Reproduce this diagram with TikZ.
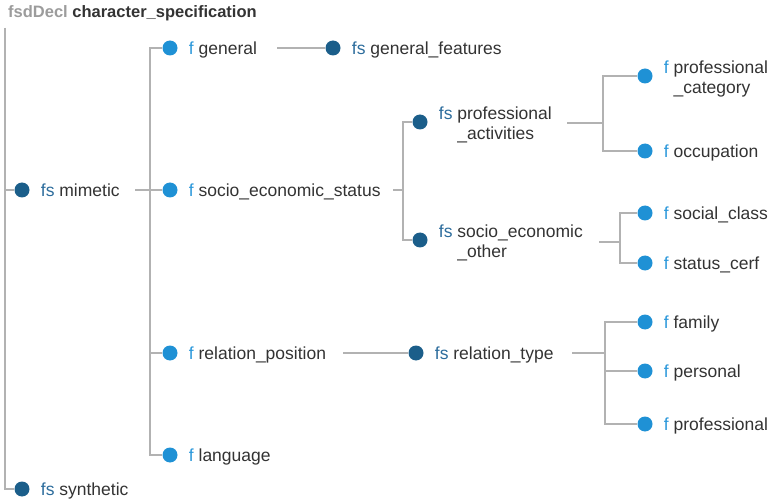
\documentclass[tikz,border=0pt]{standalone}
\usepackage{fontspec}
\setmainfont{Liberation Sans}
\usetikzlibrary{positioning}

\definecolor{fsblue}{HTML}{1B5E8A}
\definecolor{fblue}{HTML}{1F91D5}
\definecolor{fstext}{HTML}{2C6C9C}
\definecolor{ftext}{HTML}{2A97DA}
\definecolor{txtgray}{HTML}{333333}
\definecolor{linegray}{HTML}{B2B2B2}
\definecolor{titlegray}{HTML}{9C9C9C}

\newcommand\fstag{{\color{fstext}fs}}
\newcommand\ftag{{\color{ftext}f}}

\tikzset{
  fsdot/.style={circle, fill=fsblue, minimum size=15pt, inner sep=0pt},
  fdot/.style={circle, fill=fblue, minimum size=15pt, inner sep=0pt},
  lbl/.style={right=11pt of #1, yshift=-2.5pt, inner sep=0pt, text=txtgray,
    font=\fontsize{17.5}{20}\selectfont, text height=0.72em, text depth=0pt},
  lbltwo/.style={right=11pt of #1, yshift=-3pt, inner sep=0pt, text=txtgray, align=left,
    font=\fontsize{17.5}{20}\selectfont},
  edge/.style={draw=linegray, line width=1.1pt}
}

\begin{document}
\begin{tikzpicture}[x=1pt, y=-1pt]
  \useasboundingbox (0,0) rectangle (772,500);

  % title
  \node[anchor=west, inner sep=0pt, text=txtgray, font=\fontsize{16.5}{20}\selectfont\bfseries]
    (title) at (8,13) {{\color{titlegray}fsdDecl} character\_specification};
  \coordinate (root) at (5,28);

  % first level
  \node[fsdot] (mimetic) at (22,190) {};
  \node[lbl=mimetic] (mimeticT) {\fstag{} mimetic};
  \node[fsdot] (synthetic) at (22,489) {};
  \node[lbl=synthetic] (syntheticT) {\fstag{} synthetic};

  % under mimetic
  \node[fdot] (general) at (170,48) {};
  \node[lbl=general] (generalT) {\ftag{} general};
  \node[fdot] (socio) at (170,190) {};
  \node[lbl=socio] (socioT) {\ftag{} socio\_economic\_status};
  \node[fdot] (relpos) at (170,353) {};
  \node[lbl=relpos] (relposT) {\ftag{} relation\_position};
  \node[fdot] (language) at (170,455) {};
  \node[lbl=language] (languageT) {\ftag{} language};

  \node[fsdot] (genfeat) at (333,48) {};
  \node[lbl=genfeat] (genfeatT) {\fstag{} general\_features};

  % under socio_economic_status
  \node[fsdot] (profact) at (420,122) {};
  \node[lbltwo=profact] (profactT) {\fstag{} professional\\\hphantom{fs\ }\_activities};
  \node[fsdot] (socother) at (420,240) {};
  \node[lbltwo=socother] (socotherT) {\fstag{} socio\_economic\\\hphantom{fs\ }\_other};

  \node[fdot] (profcat) at (645,76) {};
  \node[lbltwo=profcat] (profcatT) {\ftag{} professional\\\hphantom{f\ }\_category};
  \node[fdot] (occup) at (645,151) {};
  \node[lbl=occup] (occupT) {\ftag{} occupation};
  \node[fdot] (social) at (645,213) {};
  \node[lbl=social] (socialT) {\ftag{} social\_class};
  \node[fdot] (status) at (645,263) {};
  \node[lbl=status] (statusT) {\ftag{} status\_cerf};

  % under relation_position
  \node[fsdot] (reltype) at (416,353) {};
  \node[lbl=reltype] (reltypeT) {\fstag{} relation\_type};
  \node[fdot] (family) at (645,322) {};
  \node[lbl=family] (familyT) {\ftag{} family};
  \node[fdot] (personal) at (645,371) {};
  \node[lbl=personal] (personalT) {\ftag{} personal};
  \node[fdot] (profess) at (645,424) {};
  \node[lbl=profess] (professT) {\ftag{} professional};

  % joints
  \coordinate (jm) at (150,190);
  \coordinate (js) at (403,190);
  \coordinate (jp) at (603,123);
  \coordinate (jo) at (620,242);
  \coordinate (jr) at (605,353);

  % connectors
  \draw[edge] (root) |- (mimetic);
  \draw[edge] (root) |- (synthetic);

  \draw[edge, shorten >=15pt] (jm) -- (jm -| mimeticT.east);
  \foreach \c in {general, socio, relpos, language}
    \draw[edge] (jm) |- (\c);
  \draw[edge, shorten <=20pt] (generalT.east |- genfeat) -- (genfeat);

  \draw[edge, shorten >=12pt] (js) -- (js -| socioT.east);
  \foreach \c in {profact, socother}
    \draw[edge] (js) |- (\c);

  \draw[edge, shorten >=15pt] (jp) -- (jp -| profactT.east);
  \foreach \c in {profcat, occup}
    \draw[edge] (jp) |- (\c);

  \draw[edge, shorten >=16pt] (jo) -- (jo -| socotherT.east);
  \foreach \c in {social, status}
    \draw[edge] (jo) |- (\c);

  \draw[edge, shorten <=17pt] (relposT.east |- reltype) -- (reltype);
  \draw[edge, shorten >=18pt] (jr) -- (jr -| reltypeT.east);
  \foreach \c in {family, personal, profess}
    \draw[edge] (jr) |- (\c);
\end{tikzpicture}
\end{document}
